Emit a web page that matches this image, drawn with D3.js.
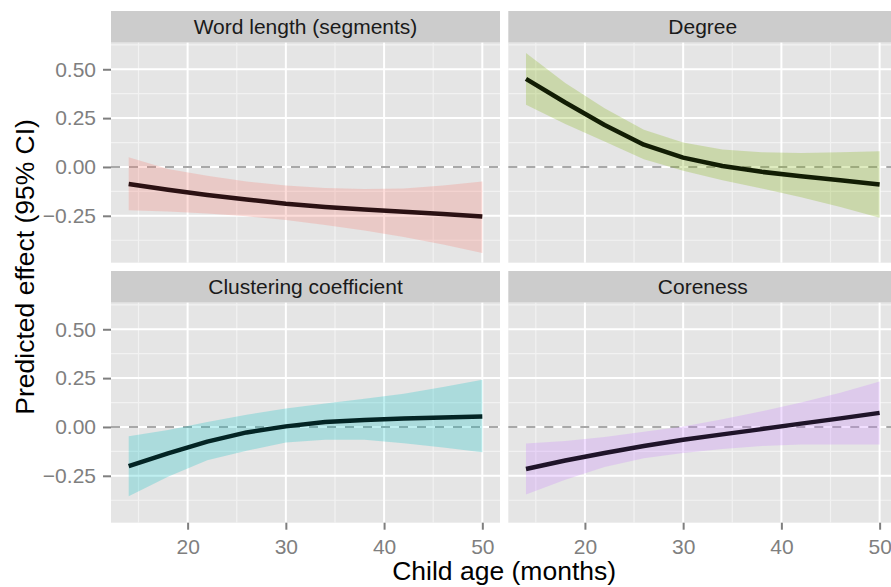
<!DOCTYPE html>
<html>
<head>
<meta charset="utf-8">
<script src="https://cdn.jsdelivr.net/npm/d3@7"></script>
<style>
body{margin:0;background:#fff}
svg text{font-family:"Liberation Sans",Arial,Helvetica,sans-serif}
</style>
</head>
<body>
<div id="chart"></div>
<script>
// child age in months, same grid for all four facets
const ages=[14,18,22,26,30,34,38,42,46,50]

const wordFit=[-0.087,-0.117,-0.143,-0.166,-0.188,-0.205,-0.218,-0.229,-0.241,-0.254]
const wordLo=[-0.222,-0.228,-0.238,-0.252,-0.272,-0.297,-0.325,-0.358,-0.397,-0.44]
const wordHi=[0.05,-0.01,-0.045,-0.075,-0.095,-0.108,-0.113,-0.11,-0.095,-0.074]

const degreeFit=[0.451,0.33,0.215,0.114,0.048,0.005,-0.025,-0.047,-0.068,-0.09]
const degreeLo=[0.318,0.22,0.13,0.04,-0.02,-0.068,-0.11,-0.155,-0.205,-0.26]
const degreeHi=[0.583,0.43,0.3,0.19,0.125,0.09,0.075,0.072,0.075,0.08]

const clustFit=[-0.201,-0.135,-0.075,-0.028,0.003,0.025,0.036,0.043,0.049,0.054]
const clustLo=[-0.355,-0.255,-0.17,-0.122,-0.08,-0.065,-0.065,-0.083,-0.105,-0.13]
const clustHi=[-0.048,-0.015,0.025,0.063,0.095,0.12,0.145,0.17,0.205,0.242]

const coreFit=[-0.215,-0.172,-0.133,-0.097,-0.065,-0.038,-0.011,0.017,0.044,0.072]
const coreLo=[-0.346,-0.27,-0.205,-0.16,-0.133,-0.113,-0.097,-0.09,-0.09,-0.09]
const coreHi=[-0.085,-0.072,-0.052,-0.025,0.003,0.04,0.08,0.125,0.175,0.233]

const facetNames=["Word length (segments)","Degree","Clustering coefficient","Coreness"]
const fillColors=["#F8766D","#7CAE00","#00BFC4","#C77CFF"]
const lineColors=["#2b1113","#121d04","#032424","#1f1429"]

const xTicks=[20,30,40,50]
const xMinor=[15,25,35,45]
const yTicks=[-0.25,0,0.25,0.5]
const yTickLabels=["\u22120.25","0.00","0.25","0.50"]
const yMinor=[-0.375,-0.125,0.125,0.375,0.625]

const facets=[
	{name:facetNames[0],fit:wordFit,lo:wordLo,hi:wordHi,col:0,row:0},
	{name:facetNames[1],fit:degreeFit,lo:degreeLo,hi:degreeHi,col:1,row:0},
	{name:facetNames[2],fit:clustFit,lo:clustLo,hi:clustHi,col:0,row:1},
	{name:facetNames[3],fit:coreFit,lo:coreLo,hi:coreHi,col:1,row:1}
]
facets.forEach((f,i)=>{f.fill=fillColors[i];f.stroke=lineColors[i]})

const W=891,H=587
const colLeft=[111,508.3],panelW=389
const stripTop=[11,271],stripH=31.7,panelH=220

const svg=d3.select('#chart').append('svg').attr('width',W).attr('height',H)

const xscale=d3.scaleLinear().domain([12.2,51.8]).range([0,panelW])
const yscale=d3.scaleLinear().domain([-0.49,0.636]).range([panelH,0])

facets.forEach(f=>{
	let x0=colLeft[f.col],y0=stripTop[f.row]
	// strip
	svg.append('rect').attr('x',x0).attr('y',y0).attr('width',panelW).attr('height',stripH).attr('fill','#cccccc')
	svg.append('text').attr('x',x0+panelW/2).attr('y',y0+stripH/2).attr('dy','0.36em')
		.attr('text-anchor','middle').attr('font-size',21).attr('fill','#1a1a1a').text(f.name)

	let g=svg.append('g').attr('transform','translate('+x0+','+(y0+stripH)+')')
	g.append('rect').attr('width',panelW).attr('height',panelH).attr('fill','#e5e5e5')

	// grid
	g.selectAll('.ymin').data(yMinor).join('line').attr('class','ymin')
		.attr('x1',0).attr('x2',panelW).attr('y1',d=>yscale(d)).attr('y2',d=>yscale(d))
		.attr('stroke','#f2f2f2').attr('stroke-width',1.2)
	g.selectAll('.xmin').data(xMinor).join('line').attr('class','xmin')
		.attr('y1',0).attr('y2',panelH).attr('x1',d=>xscale(d)).attr('x2',d=>xscale(d))
		.attr('stroke','#f2f2f2').attr('stroke-width',1.2)
	g.selectAll('.ymaj').data(yTicks).join('line').attr('class','ymaj')
		.attr('x1',0).attr('x2',panelW).attr('y1',d=>yscale(d)).attr('y2',d=>yscale(d))
		.attr('stroke','#ffffff').attr('stroke-width',2)
	g.selectAll('.xmaj').data(xTicks).join('line').attr('class','xmaj')
		.attr('y1',0).attr('y2',panelH).attr('x1',d=>xscale(d)).attr('x2',d=>xscale(d))
		.attr('stroke','#ffffff').attr('stroke-width',2)

	// zero reference
	g.append('line').attr('x1',0).attr('x2',panelW).attr('y1',yscale(0)).attr('y2',yscale(0))
		.attr('stroke','#a8a8a8').attr('stroke-width',2).attr('stroke-dasharray','9,9')

	let pts=ages.map((a,i)=>({x:a,fit:f.fit[i],lo:f.lo[i],hi:f.hi[i]}))
	let area=d3.area().x(d=>xscale(d.x)).y0(d=>yscale(d.lo)).y1(d=>yscale(d.hi))
	let line=d3.line().x(d=>xscale(d.x)).y(d=>yscale(d.fit))
	g.append('path').datum(pts).attr('d',area).attr('fill',f.fill).attr('fill-opacity',0.25)
	g.append('path').datum(pts).attr('d',line).attr('fill','none').attr('stroke',f.stroke)
		.attr('stroke-width',4.5).attr('stroke-linejoin','round')

	// axes on outer panels only
	if(f.col===0){
		let ya=d3.axisLeft(yscale).tickValues(yTicks).tickFormat((d,i)=>yTickLabels[i]).tickSize(8).tickPadding(7)
		let ag=g.append('g').call(ya)
		ag.select('.domain').remove()
		ag.selectAll('line').attr('stroke','#7f7f7f').attr('stroke-width',2)
		ag.selectAll('text').attr('font-size',21).attr('fill','#7f7f7f').attr('font-family',null)
	}
	if(f.row===1){
		let xa=d3.axisBottom(xscale).tickValues(xTicks).tickSize(7).tickPadding(9)
		let ag=g.append('g').attr('transform','translate(0,'+panelH+')').call(xa)
		ag.select('.domain').remove()
		ag.selectAll('line').attr('stroke','#7f7f7f').attr('stroke-width',2)
		ag.selectAll('text').attr('font-size',21).attr('fill','#7f7f7f').attr('font-family',null)
	}
})

// axis titles
svg.append('text').attr('x',colLeft[0]+(colLeft[1]+panelW-colLeft[0])/2).attr('y',580)
	.attr('text-anchor','middle').attr('font-size',26.5).attr('fill','#000').text('Child age (months)')
svg.append('text').attr('transform','translate(34,'+((stripTop[0]+stripTop[1]+stripH+panelH)/2)+') rotate(-90)')
	.attr('text-anchor','middle').attr('font-size',26.5).attr('fill','#000').text('Predicted effect (95% CI)')
</script>
</body>
</html>
